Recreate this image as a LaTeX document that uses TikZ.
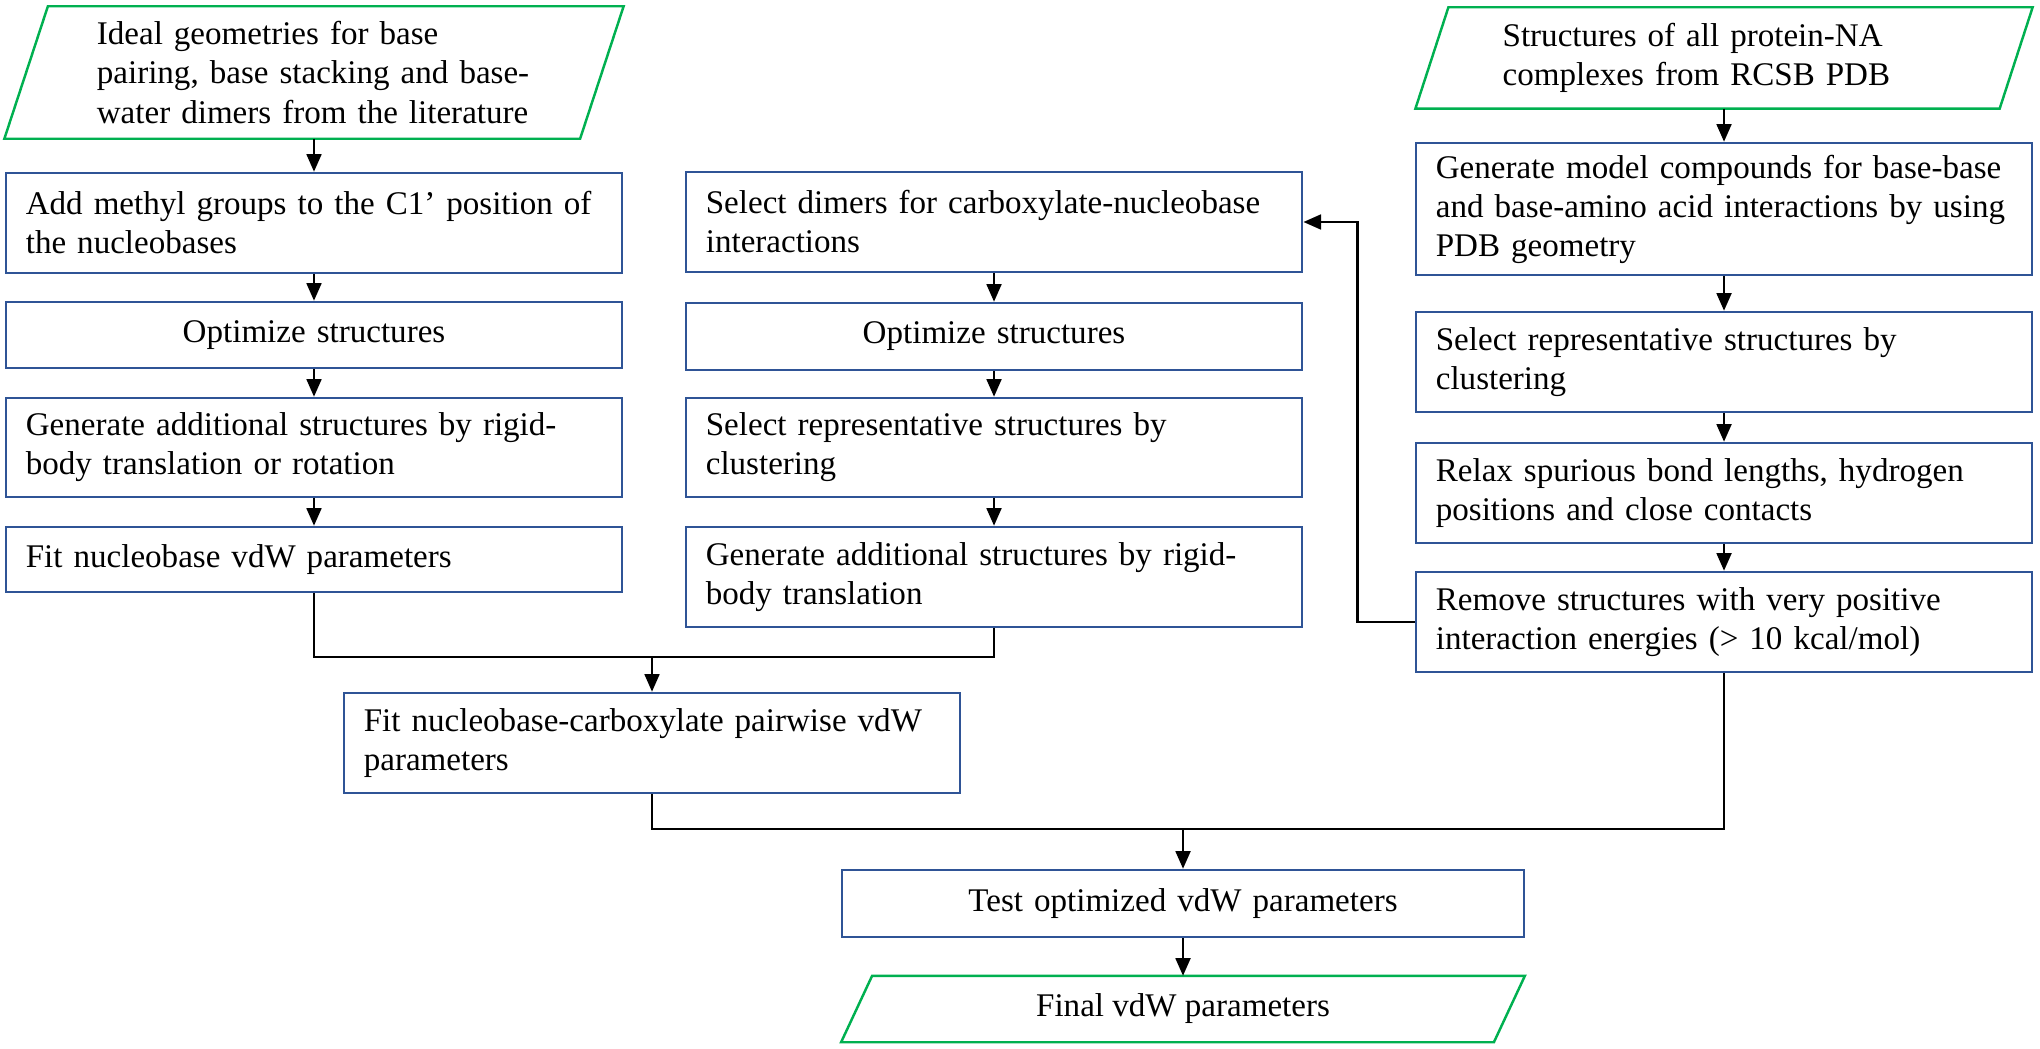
\documentclass[tikz,border=0pt]{standalone}
\usepackage{fontspec}
\setmainfont{Liberation Serif}
\usetikzlibrary{positioning, arrows.meta}
\definecolor{boxblue}{RGB}{47,84,150}
\definecolor{iogreen}{RGB}{0,176,80}

\begin{document}
\begin{tikzpicture}[x=0.01cm, y=-0.01cm,
    every node/.style={font=\fontsize{9.4pt}{11.1pt}\selectfont},
    stepbox/.style={draw=boxblue, line width=0.7pt, minimum width=6.16cm, text width=5.76cm, inner xsep=0.2cm, align=left},
    iobox/.style={inner xsep=0.7cm, align=left},
    ioline/.style={draw=iogreen, line width=0.7pt},
    flow/.style={line width=0.7pt, -{Triangle[length=5pt,width=4.2pt]}},
    link/.style={line width=0.7pt}]
    \useasboundingbox (0,0) rectangle (2040,1049);

    % inputs
    \node[iobox, minimum width=5.74cm, minimum height=1.31cm, text width=4.34cm] (in1) at (314,72.5) {Ideal geometries for base\\pairing, base stacking and base-\\water dimers from the literature};
    \draw[ioline] ([xshift=0.2175cm]in1.north west) -- ([xshift=0.2175cm]in1.north east) -- ([xshift=-0.2175cm]in1.south east) -- ([xshift=-0.2175cm]in1.south west) -- cycle;
    \node[iobox, minimum width=5.815cm, minimum height=1.00cm, text width=4.425cm] (in2) at (1724,58) {Structures of all protein-NA\\complexes from RCSB PDB};
    \draw[ioline] ([xshift=0.165cm]in2.north west) -- ([xshift=0.165cm]in2.north east) -- ([xshift=-0.165cm]in2.south east) -- ([xshift=-0.165cm]in2.south west) -- cycle;

    % left column
    \node[stepbox, minimum height=1.00cm] (add) at (314,223) {Add methyl groups to the C1’ position of\\the nucleobases};
    \node[stepbox, minimum height=0.66cm, align=center] (opt1) at (314,335) {Optimize structures};
    \node[stepbox, minimum height=0.99cm] (gen1) at (314,447.5) {Generate additional structures by rigid-\\body translation or rotation};
    \node[stepbox, minimum height=0.65cm] (fit1) at (314,559.5) {Fit nucleobase vdW parameters};

    % middle column
    \node[stepbox, minimum height=1.00cm] (sel) at (994,222) {Select dimers for carboxylate-nucleobase\\interactions};
    \node[stepbox, minimum height=0.67cm, align=center] (opt2) at (994,336.5) {Optimize structures};
    \node[stepbox, minimum height=0.99cm] (rep2) at (994,447.5) {Select representative structures by\\clustering};
    \node[stepbox, minimum height=1.00cm] (gen2) at (994,577) {Generate additional structures by rigid-\\body translation};

    % right column
    \node[stepbox, minimum height=1.32cm] (model) at (1724,209) {Generate model compounds for base-base\\and base-amino acid interactions by using\\PDB geometry};
    \node[stepbox, minimum height=1.00cm] (rep3) at (1724,362) {Select representative structures by\\clustering};
    \node[stepbox, minimum height=1.00cm] (relax) at (1724,493) {Relax spurious bond lengths, hydrogen\\positions and close contacts};
    \node[stepbox, minimum height=1.00cm] (remove) at (1724,622) {Remove structures with very positive\\interaction energies (> 10 kcal/mol)};

    % bottom
    \node[stepbox, minimum height=1.00cm] (fitnc) at (652,743) {Fit nucleobase-carboxylate pairwise vdW\\parameters};
    \node[stepbox, minimum width=6.82cm, text width=6.42cm, minimum height=0.67cm, align=center] (test) at (1183,903.5) {Test optimized vdW parameters};
    \node[iobox, minimum width=6.51cm, minimum height=0.65cm, align=center] (out) at (1183,1009) {Final vdW parameters};
    \draw[ioline] ([xshift=0.155cm]out.north west) -- ([xshift=0.155cm]out.north east) -- ([xshift=-0.155cm]out.south east) -- ([xshift=-0.155cm]out.south west) -- cycle;

    % arrows
    \foreach \a/\b in {in1/add, add/opt1, opt1/gen1, gen1/fit1, sel/opt2, opt2/rep2, rep2/gen2, in2/model, model/rep3, rep3/relax, relax/remove, test/out}
        \draw[flow] (\a) -- (\b);
    \draw[flow] (remove.west) -- ++(-57,0) |- (sel.east);
    \coordinate (j1) at (652,657);
    \coordinate (j2) at (1183,829);
    \draw[link] (fit1.south) |- (j1) -| (gen2.south);
    \draw[flow] (j1) -- (fitnc);
    \draw[link] (fitnc.south) |- (j2) -| (remove.south);
    \draw[flow] (j2) -- (test);
\end{tikzpicture}
\end{document}
